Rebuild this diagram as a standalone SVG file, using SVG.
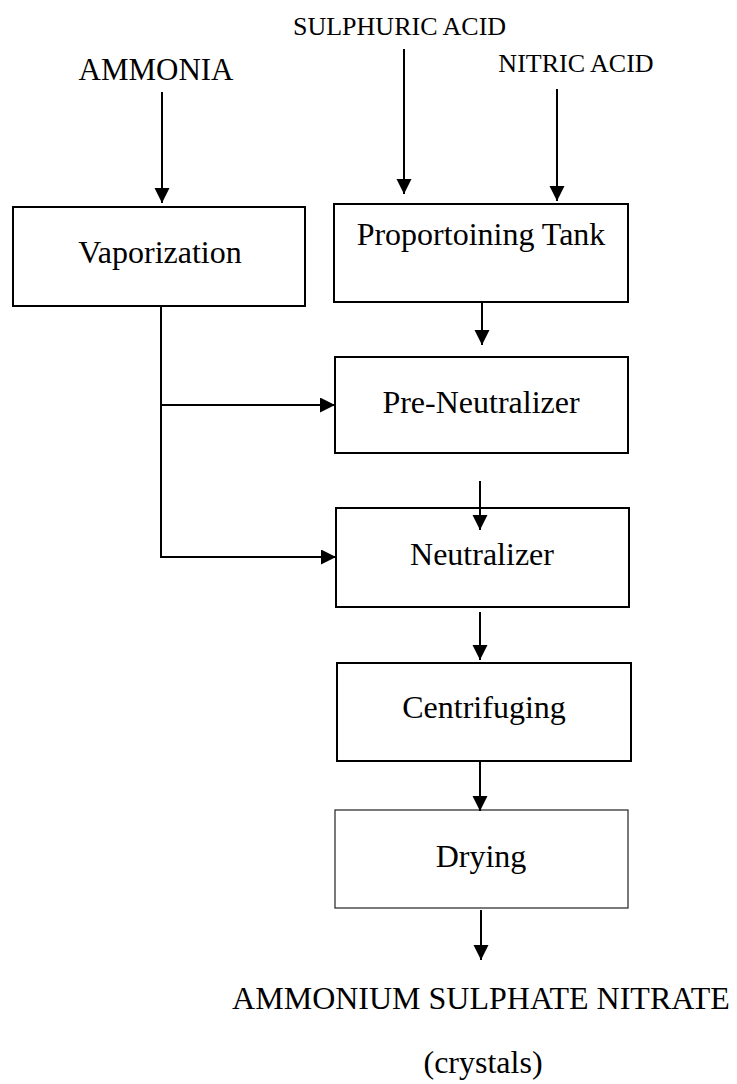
<svg xmlns="http://www.w3.org/2000/svg" width="737" height="1084" viewBox="0 0 737 1084">
<defs>
<marker id="ah" markerUnits="userSpaceOnUse" markerWidth="16" markerHeight="16" refX="15" refY="7.5" orient="auto">
<path d="M0,0 L15,7.5 L0,15 z" fill="#000"/>
</marker>
<style>
.box{fill:#fff;stroke:#000;stroke-width:2}
.thin{fill:#fff;stroke:#222;stroke-width:1.2}
.lbl{font-family:"Liberation Serif","Times New Roman",serif;font-size:32px;fill:#000;text-anchor:middle}
.top{font-family:"Liberation Serif","Times New Roman",serif;fill:#000}
.c{fill:none;stroke:#000;stroke-width:2}
.a{fill:none;stroke:#000;stroke-width:2;marker-end:url(#ah)}
</style>
</defs>
<rect width="737" height="1084" fill="#fff"/>
<g id="labels">
<text class="top" x="156" y="80" font-size="31" text-anchor="middle">AMMONIA</text>
<text class="top" x="293" y="35" font-size="26">SULPHURIC ACID</text>
<text class="top" x="576" y="72" font-size="26" text-anchor="middle">NITRIC ACID</text>
</g>
<g id="connectors">
<line class="a" x1="162" y1="92" x2="162" y2="203"/>
<line class="a" x1="404" y1="49" x2="404" y2="194"/>
<line class="a" x1="557" y1="89" x2="557" y2="201"/>
<line class="a" x1="482" y1="296" x2="482" y2="345"/>
<polyline class="c" points="161,306 161,557"/>
<line class="a" x1="160" y1="405" x2="335" y2="405"/>
<line class="a" x1="160" y1="557" x2="336" y2="557"/>
</g>
<g id="vaporization">
<rect class="box" x="13" y="207" width="292" height="99"/>
<text class="lbl" x="160" y="263">Vaporization</text>
</g>
<g id="proportioning">
<rect class="box" x="334" y="204" width="294" height="98"/>
<text class="lbl" x="481" y="245">Proportoining Tank</text>
</g>
<g id="preneutralizer">
<rect class="box" x="335" y="357" width="293" height="96"/>
<text class="lbl" x="481" y="413">Pre-Neutralizer</text>
</g>
<g id="neutralizer">
<rect class="box" x="336" y="508" width="293" height="99"/>
<text class="lbl" x="482" y="565">Neutralizer</text>
</g>
<g id="centrifuging">
<rect class="box" x="337" y="663" width="294" height="98"/>
<text class="lbl" x="484" y="718">Centrifuging</text>
</g>
<g id="drying">
<rect class="thin" x="335" y="810" width="293" height="98"/>
<text class="lbl" x="481" y="867">Drying</text>
</g>
<g id="connectors2">
<line class="a" x1="480" y1="481" x2="480" y2="530"/>
<line class="a" x1="480" y1="612" x2="480" y2="660"/>
<line class="a" x1="480" y1="762" x2="480" y2="811"/>
<line class="a" x1="481" y1="910" x2="481" y2="960"/>
</g>
<g id="output">
<text class="lbl" x="481" y="1009">AMMONIUM SULPHATE NITRATE</text>
<text class="lbl" x="483" y="1073">(crystals)</text>
</g>
</svg>
